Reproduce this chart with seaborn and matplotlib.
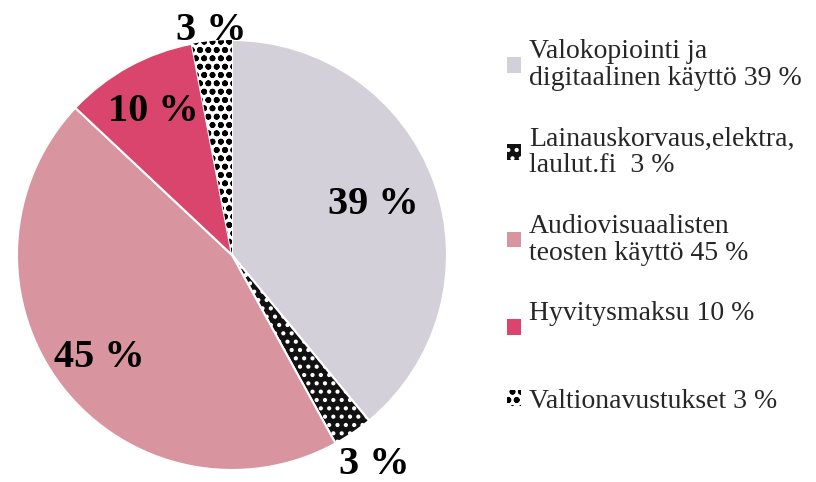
import numpy as np
import matplotlib
matplotlib.use("Agg")
import matplotlib.pyplot as plt
import seaborn as sns
from matplotlib.patches import Patch

# ==========================================
# Data
# ==========================================
categories = [
    "Valokopiointi ja\ndigitaalinen käyttö 39 %",
    "Lainauskorvaus,elektra,\nlaulut.fi  3 %",
    "Audiovisuaalisten\nteosten käyttö 45 %",
    "Hyvitysmaksu 10 %\n",
    "Valtionavustukset 3 %",
]
shares = [39, 3, 45, 10, 3]
pct_labels = ["39 %", "3 %", "45 %", "10 %", "3 %"]

# styles
colors = ["#d3d0da", "#111111", "#d8949f", "#d9456d", "#ffffff"]
hatches = [None, "..", None, None, "oo"]
edges = ["white", "white", "white", "white", "black"]
label_r = [0.70, 1.18, 0.78, 0.76, 1.05]

sns.set_theme(style="white")
plt.rcParams["font.family"] = ["Liberation Serif", "DejaVu Serif"]
plt.rcParams["hatch.linewidth"] = 1.8

fig = plt.figure(figsize=(8.16, 4.82), dpi=100)
ax = fig.add_axes([17 / 816, 12 / 482, 430 / 816, 430 / 482])

wedges, _ = ax.pie(shares, colors=colors, startangle=90, counterclock=False,
                   radius=1.0, wedgeprops=dict(linewidth=1.5))
for w, h, e in zip(wedges, hatches, edges):
    if h:
        w.set_hatch(h)
    w.set_edgecolor(e)
wedges[4].set_linewidth(0)

for w, lab, r in zip(wedges, pct_labels, label_r):
    mid = np.deg2rad((w.theta1 + w.theta2) / 2)
    ax.text(r * np.cos(mid), r * np.sin(mid), lab, ha="center", va="center",
            fontsize=29, fontweight="bold", color="black")

ax.set_xlim(-1, 1)
ax.set_ylim(-1, 1)
ax.set_aspect("equal")
ax.axis("off")

handles = [Patch(facecolor=c, edgecolor=(e if h else c), hatch=h, linewidth=0)
           for c, h, e in zip(colors, hatches, edges)]
leg = fig.legend(handles, categories, loc="upper left", bbox_to_anchor=(482 / 816, 1 - 14 / 482),
                 frameon=False, fontsize=20, handlelength=0.5, handleheight=0.5,
                 handletextpad=0.3, labelspacing=1.28)
for t in leg.get_texts():
    t.set_linespacing(1.1)

plt.savefig("out.png", dpi=100)
